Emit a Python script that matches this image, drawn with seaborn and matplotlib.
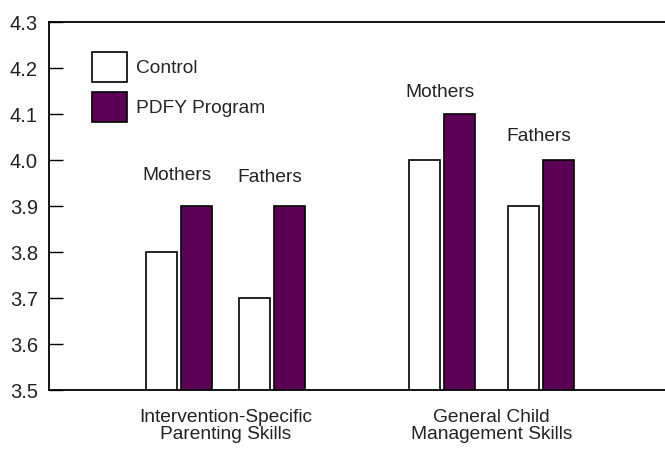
import pandas as pd
import matplotlib.pyplot as plt
import seaborn as sns
from matplotlib.ticker import FormatStrFormatter

# values
domains = ["Intervention-Specific\nParenting Skills", "General Child\nManagement Skills"]
parents = ["Mothers", "Fathers", "Mothers", "Fathers"]
control = [3.8, 3.7, 4.0, 3.9]
program = [3.9, 3.9, 4.1, 4.0]
groups = ["Control", "PDFY Program"]

# layout: centre of each mother/father bar pair on the x axis
pair_pos = [0.0, 1.0, 2.83, 3.89]
label_y = [3.967, 3.963, 4.146, 4.051]

rows = []
for i in range(len(parents)):
    rows.append({"x": pair_pos[i], "group": groups[0], "score": control[i]})
    rows.append({"x": pair_pos[i], "group": groups[1], "score": program[i]})
df = pd.DataFrame(rows)

sns.set_style("white")
plt.rcParams["font.family"] = ["Liberation Sans", "DejaVu Sans"]
plt.rcParams["font.size"] = 13.8

fig = plt.figure(figsize=(6.65, 4.49), dpi=100)
ax = fig.add_axes([0.0737, 0.1314, 0.9263, 0.8196])

sns.barplot(
    data=df, x="x", y="score", hue="group", hue_order=groups,
    native_scale=True, width=0.753, gap=0.11, saturation=1,
    palette={"Control": "white", "PDFY Program": "#5C0057"},
    edgecolor="black", linewidth=1.2, ax=ax,
)

ax.set_ylim(3.5, 4.3)
ax.set_xlim(-1.398, 5.226)
ax.set_yticks([3.5, 3.6, 3.7, 3.8, 3.9, 4.0, 4.1, 4.2, 4.3])
ax.yaxis.set_major_formatter(FormatStrFormatter("%.1f"))
ax.tick_params(axis="y", direction="in", length=10, width=1, color="black",
               left=True, labelsize=14.5, labelcolor="#222222", pad=8)
ax.set_xticks([(pair_pos[0] + pair_pos[1]) / 2, (pair_pos[2] + pair_pos[3]) / 2])
ax.set_xticklabels(domains, fontsize=13.8, color="#222222", linespacing=1.0)
ax.tick_params(axis="x", length=0, pad=14)
ax.set_xlabel("")
ax.set_ylabel("")

for side in ["left", "bottom", "top"]:
    ax.spines[side].set_visible(True)
    ax.spines[side].set_color("black")
    ax.spines[side].set_linewidth(1.3)
ax.spines["right"].set_visible(False)

for i, name in enumerate(parents):
    ax.text(pair_pos[i] - 0.02, label_y[i], name, ha="center", va="center",
            fontsize=13.8, color="#222222")

handles, labels = ax.get_legend_handles_labels()
ax.legend(handles, labels, loc="upper left", bbox_to_anchor=(0.07, 0.918),
          frameon=False, borderpad=0, borderaxespad=0, handlelength=1.82,
          handleheight=2.0, handletextpad=0.45, labelspacing=0.55,
          fontsize=13.8)

fig.savefig("out.png", dpi=100)
plt.close(fig)
